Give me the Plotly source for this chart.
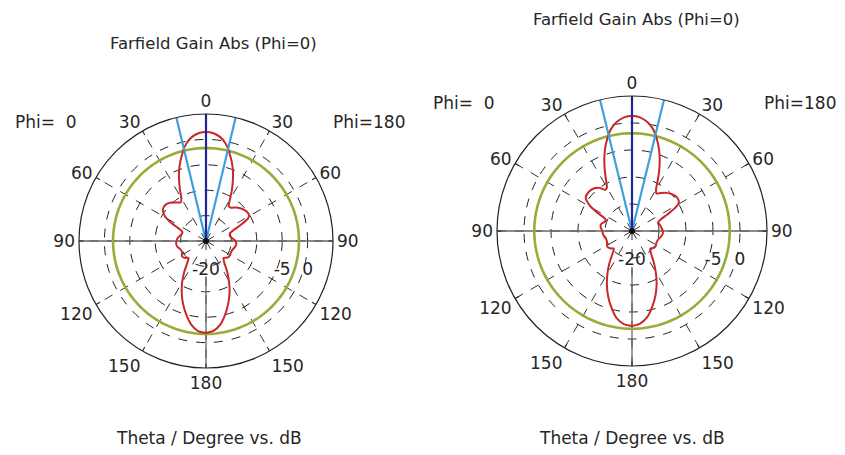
import plotly.graph_objects as go

# ---- data -------------------------------------------------------------
# Theta samples (deg) shared by both cuts
theta_deg = [0, 4, 8, 11, 13, 15, 18, 21, 24, 27, 30, 33, 37, 42, 48, 54, 59, 62,
             65, 68, 72, 78, 84, 90, 96, 102, 108, 115, 122, 128, 134, 140, 145,
             150, 155, 160, 165, 170, 175, 180]

# Left chart: gain (dB) on the Phi=180 half and the Phi=0 half
gain_a_phi180 = [1.45, 1.25, 0.6, -0.3, -1.1, -2.1, -3.6, -5.2, -7.0, -8.8, -10.6,
                 -11.8, -11.8, -11.1, -10.5, -10.1, -10.1, -10.7, -12.4, -14.0,
                 -15.0, -15.2, -14.8, -14.2, -14.0, -14.2, -14.5, -14.6, -14.5,
                 -14.7, -15.2, -14.4, -12.8, -11.0, -9.0, -7.1, -5.2, -3.4, -2.3, -1.9]
gain_a_phi0 = [1.45, 1.25, 0.6, -0.3, -1.1, -2.1, -3.6, -5.2, -7.0, -8.7, -10.3,
               -10.9, -10.5, -9.8, -9.3, -9.5, -10.6, -12.0, -13.9, -14.9, -15.1,
               -14.8, -14.4, -14.2, -14.1, -14.3, -14.7, -14.8, -14.4, -14.6, -15.2,
               -14.2, -12.5, -10.6, -8.7, -6.8, -5.0, -3.3, -2.2, -1.9]

# Right chart
gain_b_phi180 = [1.3, 1.1, 0.4, -0.5, -1.3, -2.3, -3.9, -5.7, -7.6, -9.5, -11.1,
                 -11.7, -11.2, -10.5, -9.9, -9.6, -9.9, -11.0, -12.8, -14.2, -14.9,
                 -14.7, -14.5, -14.3, -14.3, -14.6, -14.9, -15.0, -14.8, -14.9,
                 -15.3, -14.5, -13.0, -11.2, -9.2, -7.3, -5.5, -3.8, -2.8, -2.4]
gain_b_phi0 = [1.3, 1.1, 0.4, -0.5, -1.3, -2.3, -3.9, -5.7, -7.6, -9.4, -10.7,
               -10.9, -10.0, -9.4, -9.2, -9.4, -10.9, -12.6, -14.4, -14.8, -14.6,
               -14.1, -14.2, -14.5, -14.6, -14.8, -15.0, -14.9, -14.6, -14.8, -15.3,
               -14.3, -12.7, -10.9, -9.0, -7.1, -5.3, -3.6, -2.7, -2.4]

main_lobe_dir = [0, 0]          # main lobe direction (deg), per chart
beamwidth_3db = [27.0, 27.4]    # angular width (deg), per chart
level_3db = [-1.7, -1.9]        # -3 dB reference level (dB), per chart

r_range = [-20, 5]
radial_ticks = [-20, -15, -10, -5, 0]
radial_text = ["-20", "", "", "-5", "0"]
angle_ticks = [0, 30, 60, 90, 120, 150, 180, 210, 240, 270, 300, 330]
angle_text = ["0", "30", "60", "90", "120", "150", "180", "150", "120", "90", "60", "30"]

title_text = "Farfield Gain Abs (Phi=0)"
xlabel_text = "Theta / Degree vs. dB"

# ---- styling ----------------------------------------------------------
FONT = "DejaVu Sans"
TXT = "#262626"
RED = "#c8282a"
GREEN = "#9aab3a"
NAVY = "#23239a"
SKY = "#3f9fdc"
AXIS_GRAY = "#666666"

W, H = 845, 455
# polar centres and radii in pixels
charts = [
    dict(cx=206, cy=241, R=127, g180=gain_a_phi180, g0=gain_a_phi0,
         title_xy=(213, 44), xlabel_xy=(209, 438), phi0_xy=(46, 122), phi180_xy=(369, 122)),
    dict(cx=632, cy=231, R=135, g180=gain_b_phi180, g0=gain_b_phi0,
         title_xy=(636, 20), xlabel_xy=(632, 438), phi0_xy=(464, 103), phi180_xy=(800, 103)),
]

fig = go.Figure()
annotations = []

for i, c in enumerate(charts):
    pid = "polar" if i == 0 else f"polar{i + 1}"
    sub = pid

    # full pattern: Phi=180 half clockwise, then Phi=0 half mirrored
    th = theta_deg + [360 - t for t in reversed(theta_deg)]
    rr = c["g180"] + list(reversed(c["g0"]))

    circle_th = list(range(0, 361, 3))

    # horizontal axis line (90 .. 90) through the centre
    fig.add_trace(go.Scatterpolar(r=[r_range[1], r_range[0], r_range[1]], theta=[270, 0, 90],
                                  mode="lines", line=dict(color=AXIS_GRAY, width=1.3),
                                  subplot=sub, showlegend=False, hoverinfo="skip"))
    # lower vertical axis segment toward 180
    fig.add_trace(go.Scatterpolar(r=[-13, r_range[1]], theta=[180, 180],
                                  mode="lines", line=dict(color=AXIS_GRAY, width=1.3),
                                  subplot=sub, showlegend=False, hoverinfo="skip"))
    # -3 dB level circle
    fig.add_trace(go.Scatterpolar(r=[level_3db[i]] * len(circle_th), theta=circle_th,
                                  mode="lines", line=dict(color=GREEN, width=2.6),
                                  subplot=sub, showlegend=False, hoverinfo="skip"))
    # gain pattern
    fig.add_trace(go.Scatterpolar(r=rr, theta=th, mode="lines",
                                  line=dict(color=RED, width=2.0, shape="spline", smoothing=0.7),
                                  subplot=sub, showlegend=False))
    # beamwidth edges
    half = beamwidth_3db[i] / 2
    d = main_lobe_dir[i]
    fig.add_trace(go.Scatterpolar(r=[r_range[1], r_range[0], r_range[1]],
                                  theta=[d - half, d, d + half], mode="lines",
                                  line=dict(color=SKY, width=2.2),
                                  subplot=sub, showlegend=False, hoverinfo="skip"))
    # main lobe direction
    fig.add_trace(go.Scatterpolar(r=[r_range[0], r_range[1]], theta=[d, d], mode="lines",
                                  line=dict(color=NAVY, width=2.2),
                                  subplot=sub, showlegend=False, hoverinfo="skip"))
    # centre dot
    fig.add_trace(go.Scatterpolar(r=[r_range[0]], theta=[0], mode="markers",
                                  marker=dict(color="#111111", size=6),
                                  subplot=sub, showlegend=False, hoverinfo="skip"))

    cx, cy, R = c["cx"], c["cy"], c["R"]
    fig.update_layout(**{pid: dict(
        domain=dict(x=[(cx - R) / W, (cx + R) / W], y=[(H - cy - R) / H, (H - cy + R) / H]),
        bgcolor="white",
        radialaxis=dict(range=r_range, tickvals=radial_ticks, ticktext=radial_text,
                        angle=0, side="clockwise", showline=False,
                        showgrid=True, gridcolor="#222222", griddash="dash", gridwidth=1,
                        ticks="outside", ticklen=13, tickcolor="rgba(0,0,0,0)",
                        tickfont=dict(family=FONT, size=17, color=TXT), tickangle=0),
        angularaxis=dict(direction="clockwise", rotation=90,
                         tickvals=angle_ticks, ticktext=angle_text,
                         showline=True, linecolor="#222222", linewidth=1.2,
                         showgrid=True, gridcolor="#333333", griddash="dash", gridwidth=1,
                         ticks="inside", ticklen=4, tickcolor="#222222",
                         tickfont=dict(family=FONT, size=17, color=TXT)),
    )})

    def ann(text, xy, size):
        return dict(text=text, x=xy[0] / W, y=1 - xy[1] / H, xref="paper", yref="paper",
                    xanchor="center", yanchor="middle", showarrow=False,
                    font=dict(family=FONT, size=size, color=TXT))

    annotations += [
        ann(title_text, c["title_xy"], 16.5),
        ann(xlabel_text, c["xlabel_xy"], 17),
        ann("Phi=\u00a0\u00a00", c["phi0_xy"], 17),
        ann("Phi=180", c["phi180_xy"], 17),
    ]

fig.update_layout(width=W, height=H, margin=dict(l=0, r=0, t=0, b=0),
                  paper_bgcolor="white", plot_bgcolor="white",
                  annotations=annotations, showlegend=False)

fig.write_html("out.html")
